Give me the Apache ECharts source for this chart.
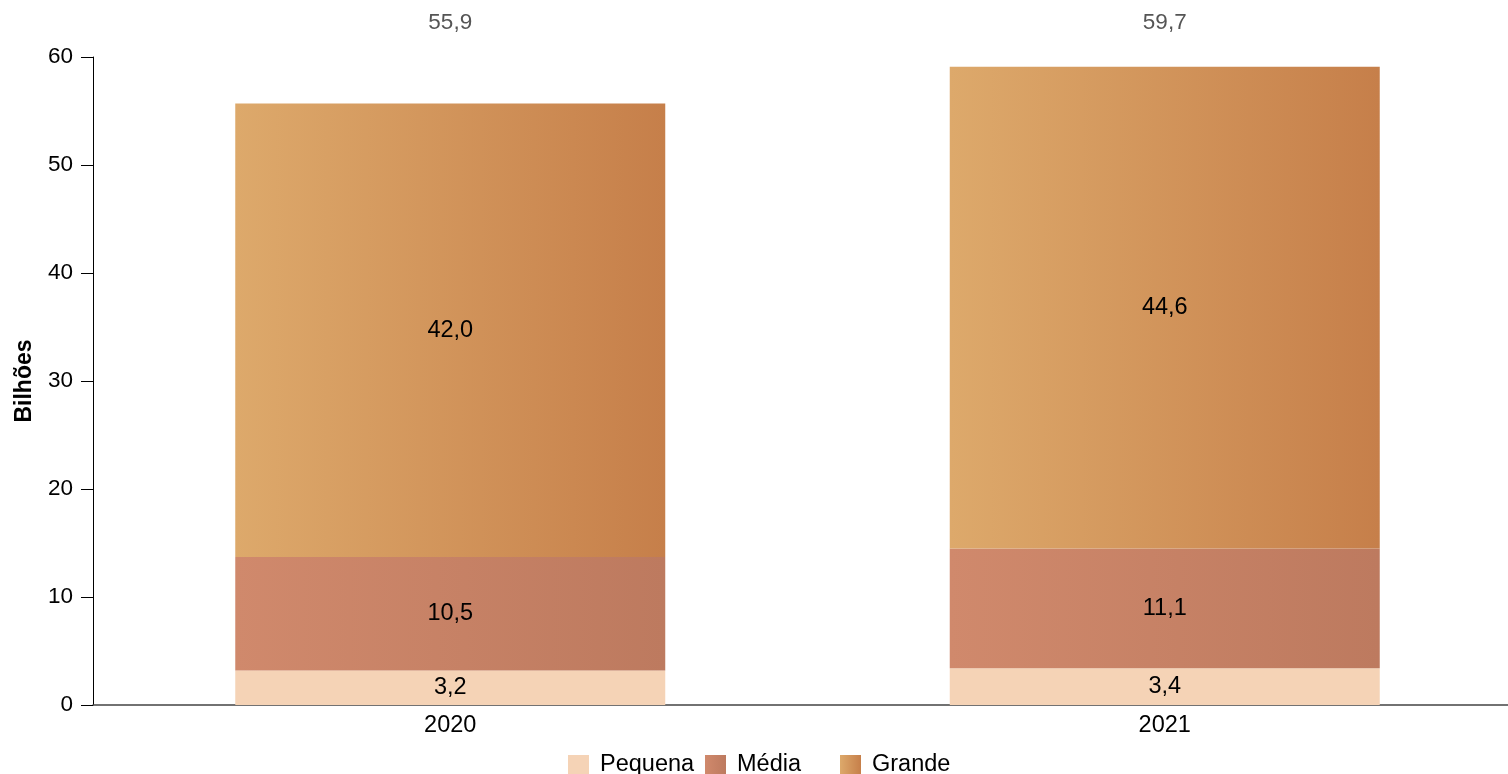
<!DOCTYPE html>
<html>
<head>
<meta charset="utf-8">
<script src="https://cdn.jsdelivr.net/npm/echarts@6/dist/echarts.min.js"></script>
<style>
html,body{margin:0;padding:0;background:#fff;overflow:hidden;}
#chart{width:1522px;height:774px;}
</style>
</head>
<body>
<div id="chart"></div>
<script>
const categories = ['2020', '2021'];
const pequena = [3.2, 3.4];
const media = [10.5, 11.1];
const grande = [42.0, 44.6];
const totals = [55.9, 59.7];
const seriesNames = ['Pequena', 'Média', 'Grande'];
const yTicks = {min: 0, max: 60, interval: 10};

const FONT = 'Liberation Sans, Arial, sans-serif';
const fmt = v => v.toFixed(1).replace('.', ',');
const grad = (a, b) => new echarts.graphic.LinearGradient(0, 0, 1, 0, [{offset: 0, color: a}, {offset: 1, color: b}]);

const chart = echarts.init(document.getElementById('chart'), null, {renderer: 'canvas'});
const labelCfg = {
  show: true, position: 'inside', color: '#000', fontSize: 23.5, fontFamily: FONT,
  formatter: p => fmt(p.value)
};
const legendLefts = [568, 705, 840];
chart.setOption({
  animation: false,
  backgroundColor: '#fff',
  textStyle: {fontFamily: FONT},
  grid: {left: 93, right: 0, top: 57, bottom: 69},
  legend: seriesNames.map((n, i) => ({
    left: legendLefts[i], top: 753, padding: 0, itemWidth: 21, itemHeight: 20, itemGap: 0,
    icon: 'rect', selectedMode: false,
    textStyle: {fontSize: 23.5, lineHeight: 20, color: '#000', fontFamily: FONT, padding: [0, 0, 0, 6]},
    data: [n]
  })),
  xAxis: [{
    type: 'category', data: categories,
    axisLine: {lineStyle: {color: '#444', width: 1.5}},
    axisTick: {show: false},
    axisLabel: {color: '#000', fontSize: 23.5, fontFamily: FONT, margin: 9}
  }, {
    type: 'category', position: 'top', data: totals.map(fmt),
    axisLine: {show: false}, axisTick: {show: false},
    axisLabel: {color: '#555', fontSize: 22.5, fontFamily: FONT, margin: 23}
  }],
  yAxis: {
    type: 'value', min: yTicks.min, max: yTicks.max, interval: yTicks.interval,
    name: 'Bilhões', nameLocation: 'middle', nameGap: 57,
    nameTextStyle: {fontSize: 23, fontWeight: 'bold', color: '#000', fontFamily: FONT},
    axisLine: {show: true, lineStyle: {color: '#000'}},
    axisTick: {show: true, length: 12, lineStyle: {color: '#000'}},
    axisLabel: {color: '#000', fontSize: 22.5, fontFamily: FONT, margin: 20},
    splitLine: {show: false}
  },
  series: [{
    name: seriesNames[0], type: 'bar', stack: 't', barWidth: 430, data: pequena,
    itemStyle: {color: '#F5D3B6'}, label: labelCfg
  }, {
    name: seriesNames[1], type: 'bar', stack: 't', barWidth: 430, data: media,
    itemStyle: {color: grad('#D0896C', '#BD7A5F')}, label: labelCfg
  }, {
    name: seriesNames[2], type: 'bar', stack: 't', barWidth: 430, data: grande,
    itemStyle: {color: grad('#DDA96B', '#C67F4A')}, label: labelCfg
  }]
});
</script>
</body>
</html>
